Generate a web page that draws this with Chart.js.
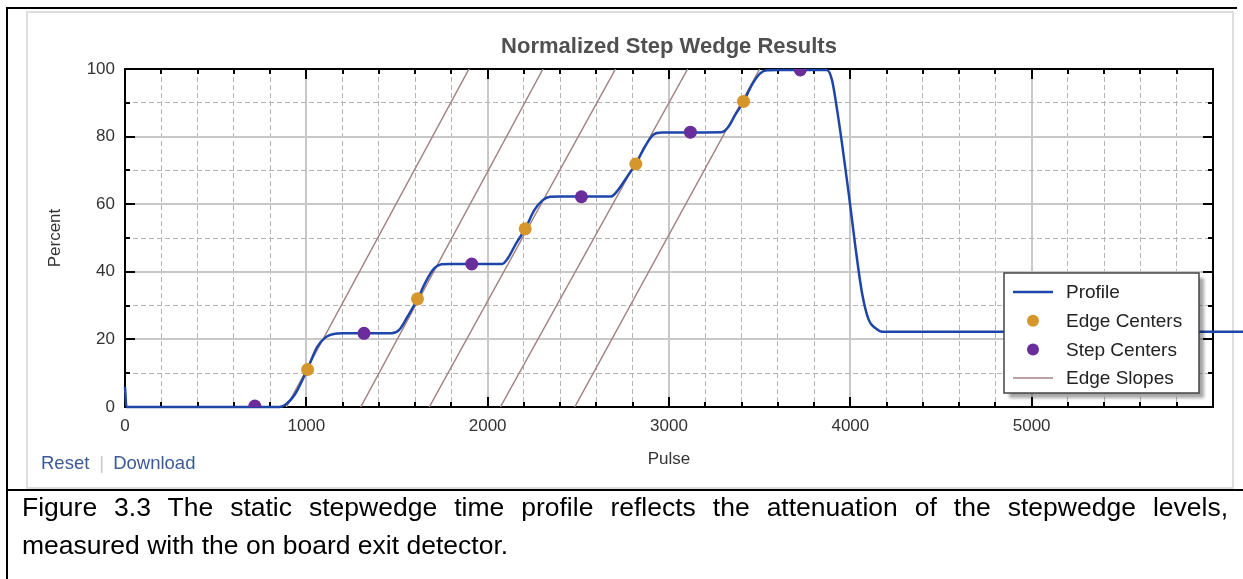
<!DOCTYPE html>
<html>
<head>
<meta charset="utf-8">
<script src="https://cdn.jsdelivr.net/npm/chart.js@4.4.0/dist/chart.umd.min.js"></script>
<style>
  html, body { margin:0; padding:0; background:#fff; width:1243px; height:579px; overflow:hidden;
    font-family:"Liberation Sans", Arial, sans-serif; }
  .blk { position:absolute; background:#000; }
  #panel { position:absolute; left:26px; top:11px; width:1204px; height:474px; border:2px solid #dedede; box-sizing:content-box; }
  #chart { position:absolute; left:0; top:0; }
  #links { position:absolute; left:41px; top:452px; font-size:18.5px; line-height:22px; color:#3b5a97; white-space:nowrap; }
  #links .sep { color:#c8c8c8; margin:0 9px 0 10px; }
  #caption { position:absolute; left:22px; top:488px; width:1206px; font-size:26.5px; line-height:38px; color:#000; }
  #caption .l1 { text-align:justify; text-align-last:justify; white-space:nowrap; }
  #caption .l1 { white-space:normal; }
  #caption .l2 { text-align:left; }
</style>
</head>
<body>
<div id="panel"></div>
<div class="blk" style="left:6px;top:7px;width:2px;height:572px;"></div>
<div class="blk" style="left:6px;top:7px;width:1231px;height:2px;"></div>
<div class="blk" style="left:6px;top:489px;width:1237px;height:2px;"></div>
<canvas id="chart" width="1243" height="490"></canvas>
<div id="links"><span>Reset</span><span class="sep">|</span><span>Download</span></div>
<div id="caption"><div class="l1">Figure 3.3 The static stepwedge time profile reflects the attenuation of the stepwedge levels,</div><div class="l2">measured with the on board exit detector.</div></div>
<script>
// ---- data ----
const profileX = [0, 8, 850, 880, 940, 1005, 1060, 1106, 1150, 1200, 1470, 1512, 1558, 1613, 1659, 1705, 1745, 1790,
  2080, 2111, 2157, 2207, 2258, 2304, 2345, 2400, 2680, 2719, 2775, 2817, 2867, 2915, 2960, 3290, 3328, 3365,
  3411, 3457, 3503, 3540, 3600, 3870, 3899, 3927, 3954, 3991, 4028, 4065, 4102, 4139, 4176, 4250, 6180];
const profileY = [6, 0, 0, 0.5, 4.0, 11.1, 17.8, 20.6, 21.6, 21.8, 21.8, 22.8, 26.7, 31.9, 37.1, 41.0, 42.2, 42.3,
  42.3, 44.0, 48.4, 52.7, 58.3, 61.2, 62.2, 62.3, 62.3, 64.2, 68.6, 71.9, 77.0, 80.6, 81.2, 81.3, 82.9, 86.4,
  90.3, 95.3, 98.7, 99.6, 99.7, 99.7, 96.7, 87.9, 78.0, 63.2, 47.4, 33.6, 25.7, 23.3, 22.3, 22.3, 22.3];
const edgeCenterX = [1007, 1613, 2207, 2817, 3411];
const edgeCenterY = [11.1, 32.0, 52.7, 71.9, 90.4];
const stepCenterX = [716, 1318, 1912, 2517, 3118, 3724];
const stepCenterY = [0.3, 21.8, 42.3, 62.2, 81.3, 99.7];
const slopeStartX = [890, 1300, 1678, 2070, 2480];
const slopeStartY = [0, 0, 0, 0, 0];
const slopeEndX = [1897, 2305, 2705, 3103, 3500];
const slopeEndY = [100, 100, 100, 100, 100];
const xTickLabels = ['0', '1000', '2000', '3000', '4000', '5000'];
const yTickLabels = ['0', '20', '40', '60', '80', '100'];
const seriesNames = ['Profile', 'Edge Centers', 'Step Centers', 'Edge Slopes'];

const zip = (xs, ys) => xs.map((x, i) => ({x: x, y: ys[i]}));
const slopePts = [];
slopeStartX.forEach((x0, i) => {
  slopePts.push({x: x0, y: slopeStartY[i]});
  slopePts.push({x: slopeEndX[i], y: slopeEndY[i]});
  slopePts.push({x: slopeEndX[i], y: null});
});

const FONT = '"Liberation Sans", Arial, sans-serif';
const isMajorX = v => v % 1000 === 0;
const isMajorY = v => v % 20 === 0;

const frameTicks = {
  id: 'frameTicks',
  beforeDatasetsDraw(chart) {
    const {ctx, chartArea: a, scales} = chart;
    ctx.save();
    ctx.strokeStyle = '#000';
    ctx.lineWidth = 2;
    ctx.beginPath();
    scales.x.ticks.forEach(t => {
      const px = Math.round(scales.x.getPixelForValue(t.value));
      const len = isMajorX(t.value) ? 10 : 5;
      ctx.moveTo(px, a.top); ctx.lineTo(px, a.top + len);
      ctx.moveTo(px, a.bottom); ctx.lineTo(px, a.bottom - len);
    });
    scales.y.ticks.forEach(t => {
      const py = Math.round(scales.y.getPixelForValue(t.value));
      const len = isMajorY(t.value) ? 10 : 5;
      ctx.moveTo(a.left, py); ctx.lineTo(a.left + len, py);
      ctx.moveTo(a.right, py); ctx.lineTo(a.right - len, py);
    });
    ctx.stroke();
    ctx.strokeRect(a.left, a.top, a.right - a.left, a.bottom - a.top);
    ctx.restore();
  }
};

const boxLegend = {
  id: 'boxLegend',
  afterDraw(chart) {
    const {ctx, chartArea: a} = chart;
    const w = 195, h = 120;
    const x = a.right - 14 - w, y = a.bottom - 14 - h;
    ctx.save();
    ctx.shadowColor = 'rgba(0,0,0,0.35)';
    ctx.shadowOffsetX = 5; ctx.shadowOffsetY = 5; ctx.shadowBlur = 3;
    ctx.fillStyle = '#fff';
    ctx.fillRect(x, y, w, h);
    ctx.shadowColor = 'transparent';
    ctx.strokeStyle = '#444'; ctx.lineWidth = 1.5;
    ctx.strokeRect(x, y, w, h);
    ctx.font = '19px ' + FONT;
    ctx.textBaseline = 'middle';
    ctx.fillStyle = '#222';
    chart.data.datasets.forEach((ds, i) => {
      const cy = y + 19 + i * 28.7;
      if (ds.showLine) {
        ctx.strokeStyle = ds.borderColor; ctx.lineWidth = ds.borderWidth;
        ctx.beginPath(); ctx.moveTo(x + 9, cy); ctx.lineTo(x + 49, cy); ctx.stroke();
      } else {
        ctx.fillStyle = ds.backgroundColor;
        ctx.beginPath(); ctx.arc(x + 29, cy, 6, 0, Math.PI * 2); ctx.fill();
      }
      ctx.fillStyle = '#222';
      ctx.fillText(ds.label, x + 62, cy + 1);
    });
    ctx.restore();
  }
};

new Chart(document.getElementById('chart'), {
  type: 'scatter',
  data: {
    datasets: [
      { label: seriesNames[0], data: zip(profileX, profileY), showLine: true, borderColor: '#1e45a8',
        backgroundColor: '#1e45a8', borderWidth: 2.5, pointRadius: 0, cubicInterpolationMode: 'monotone',
        clip: false, order: 2 },
      { label: seriesNames[1], data: zip(edgeCenterX, edgeCenterY), showLine: false, backgroundColor: '#d5962b',
        borderColor: '#d5962b', pointRadius: 6.5, borderWidth: 0, clip: 0, order: 0 },
      { label: seriesNames[2], data: zip(stepCenterX, stepCenterY), showLine: false, backgroundColor: '#6a2d9c',
        borderColor: '#6a2d9c', pointRadius: 6.5, borderWidth: 0, clip: 0, order: 1 },
      { label: seriesNames[3], data: slopePts, showLine: true, spanGaps: false, borderColor: '#a38383',
        backgroundColor: '#a38383', borderWidth: 1.5, pointRadius: 0, clip: 0, order: 3 }
    ]
  },
  options: {
    responsive: false,
    animation: false,
    events: [],
    layout: { padding: { left: 0, right: 30, top: 0, bottom: 0 } },
    plugins: {
      legend: { display: false },
      tooltip: { enabled: false },
      title: { display: true, text: 'Normalized Step Wedge Results', fullSize: false, color: '#505050',
        font: { family: FONT, size: 22, weight: 'bold', lineHeight: 1.2 }, padding: { top: 33.8, bottom: 8.8 } }
    },
    scales: {
      x: {
        type: 'linear', position: 'bottom', min: 0, max: 6000,
        afterFit(s) { s.height = 83; },
        ticks: { stepSize: 200, autoSkip: false, maxRotation: 0, color: '#333', padding: 9,
          font: { family: FONT, size: 17 },
          callback: v => xTickLabels.includes(String(v)) ? String(v) : '' },
        grid: { drawTicks: false, color: c => isMajorX(c.tick.value) ? '#c8c8c8' : '#b4b4b4',
          lineWidth: c => isMajorX(c.tick.value) ? 2 : 1 },
        border: { display: false, dash: c => (c.tick && isMajorX(c.tick.value)) ? [] : [5, 3] },
        title: { display: true, text: 'Pulse', color: '#333', font: { family: FONT, size: 17 },
          padding: { top: 0, bottom: 20 } }
      },
      y: {
        type: 'linear', position: 'left', min: 0, max: 100,
        afterFit(s) { s.width = 125; },
        ticks: { stepSize: 10, autoSkip: false, color: '#333', padding: 10,
          font: { family: FONT, size: 17 },
          callback: v => yTickLabels.includes(String(v)) ? String(v) : '' },
        grid: { drawTicks: false, color: c => isMajorY(c.tick.value) ? '#c8c8c8' : '#b4b4b4',
          lineWidth: c => isMajorY(c.tick.value) ? 2 : 1 },
        border: { display: false, dash: c => (c.tick && isMajorY(c.tick.value)) ? [] : [5, 3] },
        title: { display: true, text: 'Percent', color: '#333', font: { family: FONT, size: 17 },
          padding: { top: 45, bottom: 0 } }
      }
    }
  },
  plugins: [frameTicks, boxLegend]
});
</script>
</body>
</html>
